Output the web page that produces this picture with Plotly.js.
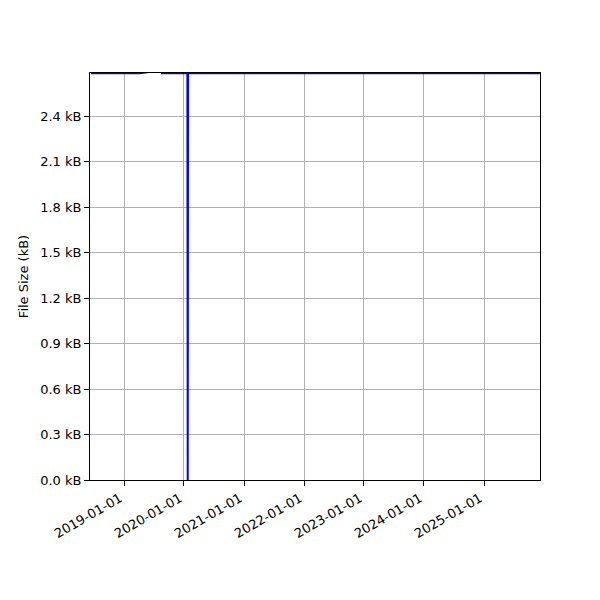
<!DOCTYPE html>
<html>
<head>
<meta charset="utf-8">
<script src="https://cdn.plot.ly/plotly-3.0.1.min.js"></script>
<style>html,body{margin:0;padding:0;background:#fff;}#chart{width:600px;height:600px;}</style>
</head>
<body>
<div id="chart"></div>
<script>
// Data (file size in kB over time)
const dates = ["2018-06-15", "2019-04-07", "2019-08-18", "2019-08-20", "2020-01-22", "2020-01-24", "2020-01-26", "2025-12-08"];
const sizes = [2.683, 2.683, 2.70, 2.683, 2.683, 0.0, 2.683, 2.683];
const xTickVals = ["2019-01-01", "2020-01-01", "2021-01-01", "2022-01-01", "2023-01-01", "2024-01-01", "2025-01-01"];
const yTickVals = [0, 0.3, 0.6, 0.9, 1.2, 1.5, 1.8, 2.1, 2.4];

const font = {family: "DejaVu Sans", size: 13, color: "#000"};

Plotly.newPlot("chart", [{
  x: dates,
  y: sizes,
  type: "scatter",
  mode: "lines",
  line: {color: "#0000ff", width: 2},
  showlegend: false
}], {
  width: 600, height: 600,
  margin: {l: 90, r: 60, t: 73, b: 120},
  paper_bgcolor: "#fff",
  plot_bgcolor: "#fff",
  font: font,
  xaxis: {
    type: "date",
    range: ["2018-06-08", "2025-12-08"],
    tickvals: xTickVals,
    ticktext: xTickVals,
    tickangle: -30,
    ticklabelshift: -4,
    ticks: "outside", ticklen: 5, tickcolor: "#000", tickwidth: 1,
    showgrid: true, gridcolor: "#b0b0b0", gridwidth: 1,
    showline: true, linecolor: "#000", linewidth: 1, mirror: true,
    zeroline: false,
    tickfont: font
  },
  yaxis: {
    range: [0, 2.684],
    tickvals: yTickVals,
    ticktext: yTickVals.map(v => v.toFixed(1) + " kB"),
    ticks: "outside", ticklen: 5, tickcolor: "#000", tickwidth: 1,
    showgrid: true, gridcolor: "#b0b0b0", gridwidth: 1,
    showline: true, linecolor: "#000", linewidth: 1, mirror: true,
    zeroline: false,
    tickfont: font,
    title: {text: "File Size (kB)", font: font, standoff: 8}
  }
}, {staticPlot: true});
</script>
</body>
</html>
